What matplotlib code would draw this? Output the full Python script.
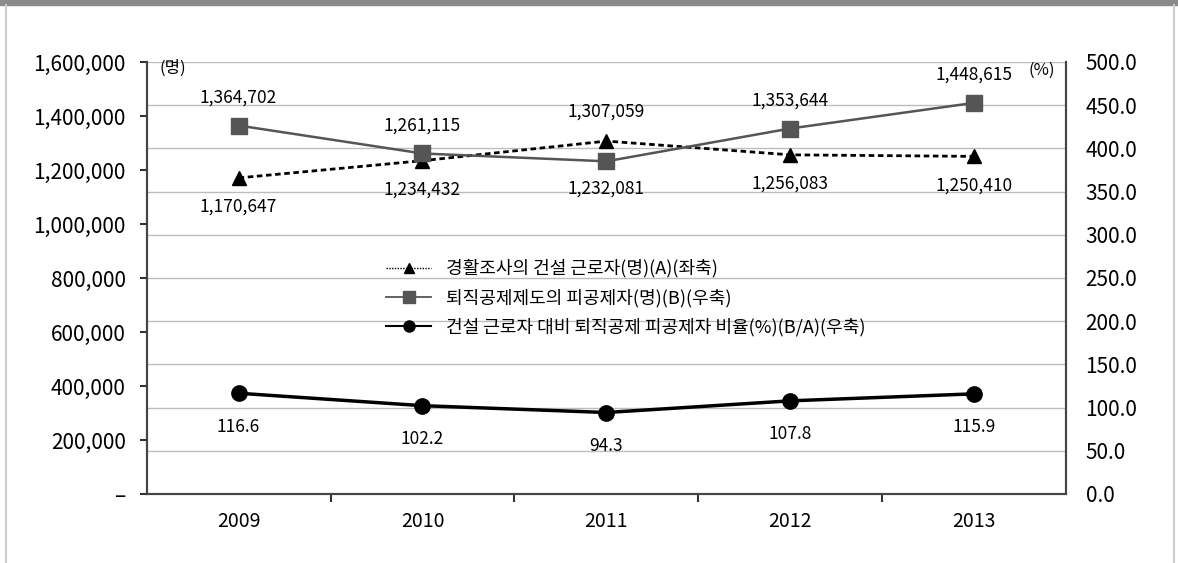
import matplotlib
matplotlib.use('Agg')
import matplotlib.pyplot as plt
from matplotlib.lines import Line2D
from matplotlib.patches import Rectangle
from matplotlib.ticker import FuncFormatter, MultipleLocator, FixedLocator

years = ['2009', '2010', '2011', '2012', '2013']
workers = [1170647, 1234432, 1307059, 1256083, 1250410]      # (A) 좌축
insured = [1364702, 1261115, 1232081, 1353644, 1448615]      # (B)
ratio = [116.6, 102.2, 94.3, 107.8, 115.9]                   # (B/A) %

labels = ['경활조사의 건설 근로자(명)(A)(좌축)',
          '퇴직공제제도의 피공제자(명)(B)(우축)',
          '건설 근로자 대비 퇴직공제 피공제자 비율(%)(B/A)(우축)']

# label placement: +1 above, -1 below
workers_pos = [-1, -1, 1, -1, -1]
insured_pos = [1, 1, -1, 1, 1]

plt.rcParams['font.family'] = ['Noto Sans CJK KR', 'DejaVu Sans']

fig = plt.figure(figsize=(11.78, 5.63), dpi=100)
ax2 = fig.add_axes([0.1245, 0.1226, 0.7805, 0.7673])
ax = ax2.twinx()
ax.set_zorder(ax2.get_zorder() + 1)
ax.patch.set_visible(False)

# left axis is drawn on the left side
ax.yaxis.tick_left()
ax.yaxis.set_label_position('left')
ax2.yaxis.tick_right()

x = list(range(len(years)))

ax.plot(x, workers, color='black', lw=2, linestyle=(0, (2, 1.3)),
        marker='^', markersize=10, zorder=3)
ax.plot(x, insured, color='#555555', lw=1.8, marker='s', markersize=11,
        zorder=4)
ax2.plot(x, ratio, color='black', lw=2.5, marker='o', markersize=11,
         zorder=3)

for xi, v, p in zip(x, workers, workers_pos):
    ax.annotate(f'{v:,}', (xi, v), xytext=(0, 21 * p), textcoords='offset points',
                ha='center', va='center', fontsize=12.5)
for xi, v, p in zip(x, insured, insured_pos):
    ax.annotate(f'{v:,}', (xi, v), xytext=(0, 20 * p), textcoords='offset points',
                ha='center', va='center', fontsize=12.5)
for xi, v in zip(x, ratio):
    ax2.annotate(f'{v:.1f}', (xi, v), xytext=(0, -24), textcoords='offset points',
                 ha='center', va='center', fontsize=12.5)

ax.set_xlim(-0.5, 4.5)
ax.set_ylim(0, 1600000)
ax2.set_ylim(0, 500)

ax.yaxis.set_major_locator(MultipleLocator(200000))
ax.yaxis.set_major_formatter(FuncFormatter(lambda v, _: '–' if v == 0 else f'{v:,.0f}'))
ax2.yaxis.set_major_locator(MultipleLocator(50))
ax2.yaxis.set_major_formatter(FuncFormatter(lambda v, _: f'{v:.1f}'))

ax2.set_xticks(x)
ax2.set_xticklabels(years, fontsize=14)
ax2.xaxis.set_minor_locator(FixedLocator([0.5, 1.5, 2.5, 3.5]))
ax2.tick_params(axis='x', which='major', length=0, pad=12)
ax2.tick_params(axis='x', which='minor', length=6, width=1.5, color='#333333', direction='out')
ax.tick_params(axis='y', labelsize=15, length=5, width=1.5, color='#333333', pad=10)
ax2.tick_params(axis='y', labelsize=15, length=0, pad=14)

ax2.grid(axis='y', color='#bdbdbd', lw=1)
ax2.set_axisbelow(True)

for a in (ax, ax2):
    a.spines['top'].set_visible(False)
    for s in ('left', 'right', 'bottom'):
        a.spines[s].set_color('#444444')
        a.spines[s].set_linewidth(1.5)

ax.text(0.014, 0.985, '(명)', transform=ax.transAxes, fontsize=12, va='center', ha='left')
ax.text(0.988, 0.98, '(%)', transform=ax.transAxes, fontsize=12, va='center', ha='right')

handles = [
    Line2D([], [], color='black', lw=1, linestyle=(0, (1, 1)), marker='^', markersize=7),
    Line2D([], [], color='#555555', lw=1.3, marker='s', markersize=8),
    Line2D([], [], color='black', lw=1.5, marker='o', markersize=8),
]
ax.legend(handles, labels, loc='upper left', bbox_to_anchor=(370 / 1178, 1 - 243 / 563),
          bbox_transform=fig.transFigure, frameon=False, fontsize=13,
          handlelength=2.5, handletextpad=0.8, labelspacing=0.6)

# frame decorations of the original picture
fig.patches.append(Rectangle((0, 1 - 5 / 563), 1, 5 / 563, transform=fig.transFigure,
                             color='#8a8a8a', zorder=0))
fig.add_artist(Line2D([6 / 1178, 6 / 1178], [0, 1 - 5 / 563], color='#cccccc', lw=1.5,
                      transform=fig.transFigure))
fig.add_artist(Line2D([1174 / 1178, 1174 / 1178], [0, 1 - 5 / 563], color='#cccccc', lw=1.5,
                      transform=fig.transFigure))

plt.savefig('out.png', dpi=100)
